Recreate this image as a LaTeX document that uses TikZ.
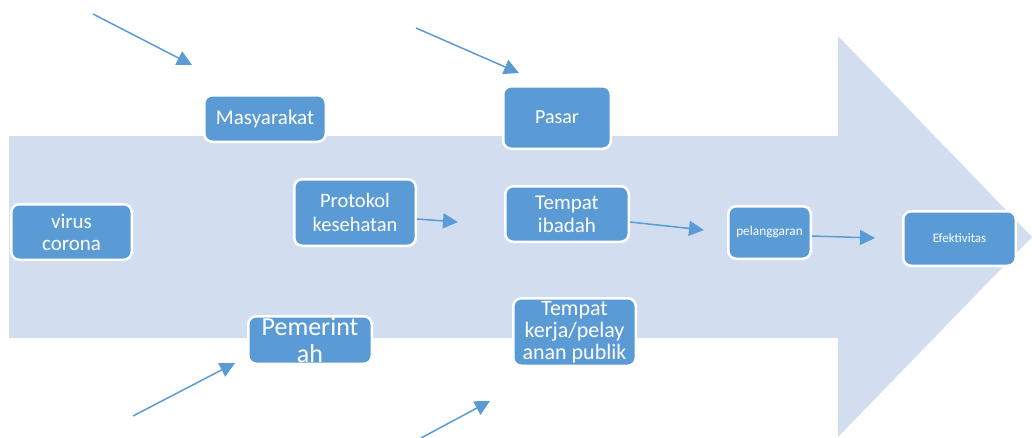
\documentclass[tikz,border=0pt]{standalone}
\usepackage{fontspec}
\setmainfont{Carlito}
\usetikzlibrary{arrows.meta}
\definecolor{shaft}{RGB}{210,222,239}
\definecolor{boxblue}{RGB}{91,155,213}
\tikzset{
  box/.style={draw=white, line width=2.5pt, fill=boxblue, rounded corners=8pt,
    text=white, inner sep=0pt, align=center},
  conn/.style={draw=boxblue, line width=1.5pt, -{Triangle[length=15pt,width=15pt]}}
}
\newcommand{\fs}[2]{\fontsize{#1pt}{#2pt}\selectfont}
\begin{document}
\begin{tikzpicture}[x=1pt,y=-1pt]
\useasboundingbox (0,0) rectangle (1032,437);
\fill[shaft] (9,136) -- (838,136) -- (838,36) -- (1032,237) -- (838,437) -- (838,338) -- (9,338) -- cycle;

% free ends
\coordinate (a1s) at (93,14);   \coordinate (a1e) at (192,65);
\coordinate (a2s) at (416,28);  \coordinate (a2e) at (519,73);
\coordinate (a3s) at (133,416); \coordinate (a3e) at (235,363);
\coordinate (a4s) at (421,438); \coordinate (a4e) at (490,401);
\coordinate (p1) at (458,222);
\coordinate (p2) at (704,230);
\coordinate (p3) at (875,238);

\node[box, minimum width=120.5pt, minimum height=55.5pt, font=\fs{21}{22}] (virus) at (71.5,232) {virus\\corona};
\node[box, minimum width=121.5pt, minimum height=46.5pt, font=\fs{21}{22}] (masy) at (265,118.5) {Masyarakat};
\node[box, minimum width=107.5pt, minimum height=62.5pt, font=\fs{20}{22}] (pasar) at (557,117.5) {Pasar};
\node[box, minimum width=121.5pt, minimum height=66.5pt, font=\fs{20.5}{24}] (prot) at (355,212.5) {Protokol\\kesehatan};
\node[box, minimum width=123.5pt, minimum height=55.5pt, font=\fs{21}{23}] (ibadah) at (567,214) {Tempat\\ibadah};
\node[box, minimum width=82.5pt, minimum height=52.5pt, font=\fs{13.3}{15}] (pel) at (769.5,232.5) {pelanggaran};
\node[box, minimum width=112.5pt, minimum height=54.5pt, font=\fs{13}{15}] (efek) at (959.5,238.5) {Efektivitas};
\node[box, minimum width=123.5pt, minimum height=47.5pt, font=\fs{26}{27}] (pem) at (310,340) {Pemerint\\ah};
\node[box, minimum width=122.5pt, minimum height=67.5pt, font=\fs{22}{22}] (kerja) at (574.5,332) {Tempat\\kerja/pelay\\anan publik};

\draw[conn] (a1s) -- (a1e);
\draw[conn] (a2s) -- (a2e);
\draw[conn] (a3s) -- (a3e);
\draw[conn] (a4s) -- (a4e);
\draw[conn] ([yshift=-6.5pt]prot.east) -- (p1);
\draw[conn] ([yshift=-8pt]ibadah.east) -- (p2);
\draw[conn] ([yshift=-3.5pt]pel.east) -- (p3);
\end{tikzpicture}
\end{document}
